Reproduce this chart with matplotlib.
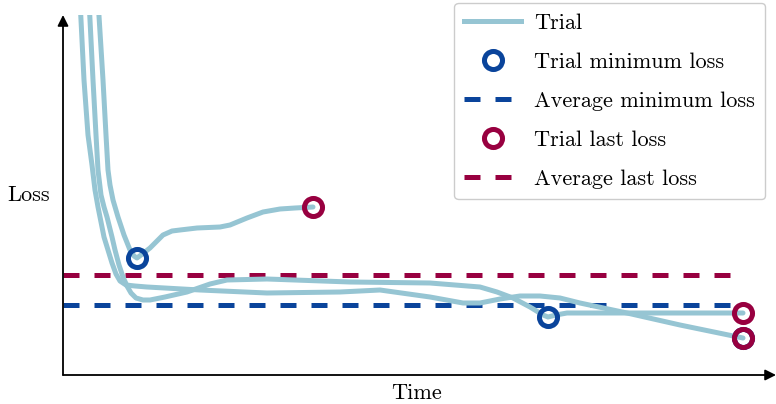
import matplotlib
matplotlib.use("Agg")
import matplotlib.pyplot as plt
from matplotlib.lines import Line2D

plt.rcParams["font.family"] = "serif"
plt.rcParams["font.serif"] = ["cmr10", "DejaVu Serif"]
plt.rcParams["mathtext.fontset"] = "cm"
plt.rcParams["axes.formatter.use_mathtext"] = True

# ----------------------------------------------------------------------------
# Data (arbitrary time / loss units)
# ----------------------------------------------------------------------------
trial_a_t = [35, 40, 43, 45, 47, 50, 55, 61, 67, 71, 74, 78, 87, 100, 109, 117, 134, 157, 167,
             184, 200, 217, 232, 250]
trial_a_loss = [375, 295, 240, 205, 190, 175, 158, 140, 125, 119, 117, 120, 127, 140, 144, 145,
                147, 148, 150, 157, 163, 166, 167, 168]

trial_b_t = [26, 30, 33, 35, 38, 41, 44, 49, 52, 56, 60, 64, 68, 73, 80, 87, 102, 124, 147,
             164, 204, 287, 367, 417, 434, 450, 467, 480, 485, 493, 504, 517, 564, 637, 680]
trial_b_loss = [375, 295, 240, 205, 180, 168, 158, 138, 125, 110, 98, 89, 82, 77, 75, 75, 78,
                83, 91, 95, 96, 93, 92, 88, 83, 77, 68, 60, 58, 60, 62, 62, 62, 62, 62]

trial_c_t = [17, 21, 25, 29, 32, 35, 37, 41, 45, 49, 53, 57, 63, 72, 84, 137, 204, 277, 317,
             367, 400, 417, 437, 457, 477, 497, 517, 564, 617, 680]
trial_c_loss = [375, 295, 240, 210, 185, 168, 158, 138, 125, 112, 101, 94, 90, 89, 88, 85, 82,
                83, 85, 78, 72, 72, 76, 79, 79, 77, 72, 62, 50, 37]

min_t = [74, 485, 680]
min_loss = [117, 58, 37]
last_t = [250, 680, 680]
last_loss = [168, 62, 37]

avg_min_loss = 70
avg_last_loss = 100
avg_t_end = 680

LIGHT = "#96c5d3"
BLUE = "#0a449b"
RED = "#980040"

# ----------------------------------------------------------------------------
# Plot
# ----------------------------------------------------------------------------
fig = plt.figure(figsize=(7.76, 4.04), dpi=100)
ax = fig.add_axes([63 / 776, 29 / 404, 707 / 776, 360 / 404])
ax.set_xlim(0, 707)
ax.set_ylim(0, 360)

lw = 3.6
for t, loss in ((trial_a_t, trial_a_loss), (trial_b_t, trial_b_loss), (trial_c_t, trial_c_loss)):
    ax.plot(t, loss, color=LIGHT, lw=lw, solid_capstyle="round", solid_joinstyle="round", zorder=3)

ax.plot([0, avg_t_end], [avg_min_loss] * 2, color=BLUE, lw=lw, dashes=(3.2, 3.0), zorder=2)
ax.plot([0, avg_t_end], [avg_last_loss] * 2, color=RED, lw=lw, dashes=(3.2, 3.0), zorder=2)

ax.plot(min_t, min_loss, "o", ms=13, mfc="none", mec=BLUE, mew=3.6, zorder=4)
ax.plot(last_t, last_loss, "o", ms=13, mfc="none", mec=RED, mew=3.6, zorder=5)

for s in ax.spines.values():
    s.set_visible(False)
ax.set_xticks([])
ax.set_yticks([])
ax.annotate("", xy=(0, 1), xytext=(0, 0), xycoords="axes fraction",
            arrowprops=dict(arrowstyle="-|>", color="k", lw=1.3, mutation_scale=16,
                            shrinkA=0, shrinkB=0))
ax.annotate("", xy=(1.0085, 0), xytext=(0, 0), xycoords="axes fraction",
            arrowprops=dict(arrowstyle="-|>", color="k", lw=1.3, mutation_scale=16,
                            shrinkA=0, shrinkB=0))

ax.set_xlabel("Time", fontsize=16, labelpad=6)
ax.set_ylabel("Loss", fontsize=16, rotation=0, va="center", ha="center")
ax.yaxis.set_label_coords(-0.048, 0.5)

handles = [
    Line2D([], [], color=LIGHT, lw=lw),
    Line2D([], [], ls="none", marker="o", ms=13, mfc="none", mec=BLUE, mew=3.6),
    Line2D([], [], color=BLUE, lw=lw, dashes=(3.2, 3.0)),
    Line2D([], [], ls="none", marker="o", ms=13, mfc="none", mec=RED, mew=3.6),
    Line2D([], [], color=RED, lw=lw, dashes=(3.2, 3.0)),
]
labels = ["Trial", "Trial minimum loss", "Average minimum loss", "Trial last loss", "Average last loss"]
leg = fig.legend(handles, labels, loc="upper right", bbox_to_anchor=(765 / 776, 1 - 3 / 404),
                 fontsize=16, handlelength=2.56, handletextpad=0.59, labelspacing=0.88,
                 borderpad=0.45, borderaxespad=0,
                 fancybox=True, framealpha=1, edgecolor="#cccccc")

fig.savefig("out.png", dpi=100)
